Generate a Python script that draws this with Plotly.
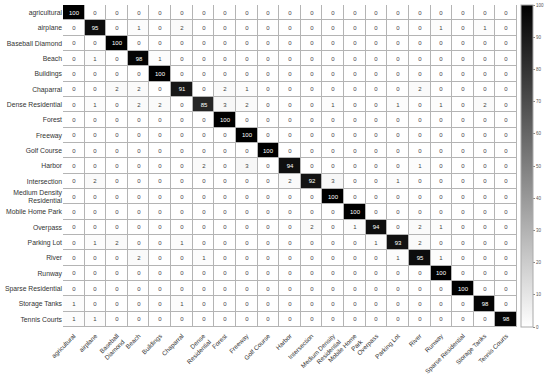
import plotly.graph_objects as go

x_labels = ["agricultural", "airplane", "Baseball<br>Diamond", "Beach", "Buildings", "Chaparral",
            "Dense<br>Residential", "Forest", "Freeway", "Golf Course", "Harbor", "Intersection",
            "Medium Density<br>Residential", "Mobile Home<br>Park", "Overpass", "Parking Lot", "River",
            "Runway", "Sparse Residential", "Storage Tanks", "Tennis Courts"]
y_labels = ["agricultural", "airplane", "Baseball Diamond", "Beach", "Buildings", "Chaparral",
            "Dense Residential", "Forest", "Freeway", "Golf Course", "Harbor", "Intersection",
            "Medium Density<br>Residential", "Mobile Home Park", "Overpass", "Parking Lot", "River",
            "Runway", "Sparse Residential", "Storage Tanks", "Tennis Courts"]

row_agricultural = [100,0,0,0,0,0,0,0,0,0,0,0,0,0,0,0,0,0,0,0,0]
row_airplane     = [0,95,0,1,0,2,0,0,0,0,0,0,0,0,0,0,0,1,0,1,0]
row_baseball     = [0,0,100,0,0,0,0,0,0,0,0,0,0,0,0,0,0,0,0,0,0]
row_beach        = [0,1,0,98,1,0,0,0,0,0,0,0,0,0,0,0,0,0,0,0,0]
row_buildings    = [0,0,0,0,100,0,0,0,0,0,0,0,0,0,0,0,0,0,0,0,0]
row_chaparral    = [0,0,2,2,0,91,0,2,1,0,0,0,0,0,0,0,2,0,0,0,0]
row_dense        = [0,1,0,2,2,0,85,3,2,0,0,0,1,0,0,1,0,1,0,2,0]
row_forest       = [0,0,0,0,0,0,0,100,0,0,0,0,0,0,0,0,0,0,0,0,0]
row_freeway      = [0,0,0,0,0,0,0,0,100,0,0,0,0,0,0,0,0,0,0,0,0]
row_golf         = [0,0,0,0,0,0,0,0,0,100,0,0,0,0,0,0,0,0,0,0,0]
row_harbor       = [0,0,0,0,0,0,2,0,3,0,94,0,0,0,0,0,1,0,0,0,0]
row_intersection = [0,2,0,0,0,0,0,0,0,0,2,92,3,0,0,1,0,0,0,0,0]
row_medium       = [0,0,0,0,0,0,0,0,0,0,0,0,100,0,0,0,0,0,0,0,0]
row_mobile       = [0,0,0,0,0,0,0,0,0,0,0,0,0,100,0,0,0,0,0,0,0]
row_overpass     = [0,0,0,0,0,0,0,0,0,0,0,2,0,1,94,0,2,1,0,0,0]
row_parking      = [0,1,2,0,0,1,0,0,0,0,0,0,0,0,1,93,2,0,0,0,0]
row_river        = [0,0,0,2,0,0,1,0,0,0,0,0,0,0,0,1,95,1,0,0,0]
row_runway       = [0,0,0,0,0,0,0,0,0,0,0,0,0,0,0,0,0,100,0,0,0]
row_sparse       = [0,0,0,0,0,0,0,0,0,0,0,0,0,0,0,0,0,0,100,0,0]
row_storage      = [1,0,0,0,0,1,0,0,0,0,0,0,0,0,0,0,0,0,0,98,0]
row_tennis       = [1,1,0,0,0,0,0,0,0,0,0,0,0,0,0,0,0,0,0,0,98]

z = [row_agricultural, row_airplane, row_baseball, row_beach, row_buildings, row_chaparral,
     row_dense, row_forest, row_freeway, row_golf, row_harbor, row_intersection, row_medium,
     row_mobile, row_overpass, row_parking, row_river, row_runway, row_sparse, row_storage, row_tennis]

cb_ticks = [0, 10, 20, 30, 40, 50, 60, 70, 80, 90, 100]

fig = go.Figure(go.Heatmap(
    z=z, x=x_labels, y=y_labels,
    colorscale=[[0, "#ffffff"], [1, "#000000"]],
    zmin=0, zmax=100,
    xgap=1, ygap=1,
    texttemplate="%{z}",
    textfont=dict(size=6, family="Liberation Sans"),
    colorbar=dict(
        x=1.008, xanchor="left", y=0.5, yanchor="middle",
        len=1.0, lenmode="fraction", thickness=12,
        outlinewidth=1, outlinecolor="#aaaaaa",
        tickvals=cb_ticks, ticks="outside", ticklen=2, tickcolor="#888888",
        tickfont=dict(size=4.5, color="#555555", family="Liberation Sans"),
        xpad=0, ypad=0,
    ),
))

fig.update_layout(
    width=550, height=375,
    margin=dict(l=63, r=29, t=5, b=48),
    paper_bgcolor="white",
    plot_bgcolor="#b4b4b4",
    font=dict(family="Liberation Sans", color="#333333"),
)
fig.update_xaxes(tickangle=-45, tickfont=dict(size=6.3), showgrid=False, zeroline=False,
                 ticks="outside", ticklen=2, tickcolor="rgba(0,0,0,0)",
                 automargin=False, ticklabeloverflow="allow")
fig.update_yaxes(autorange="reversed", tickfont=dict(size=6.8), showgrid=False, zeroline=False,
                 ticks="", ticklen=0,
                 automargin=False, ticklabeloverflow="allow")

fig.write_html("out.html", config={"displayModeBar": False},
               post_script="document.body.style.margin='0';")
